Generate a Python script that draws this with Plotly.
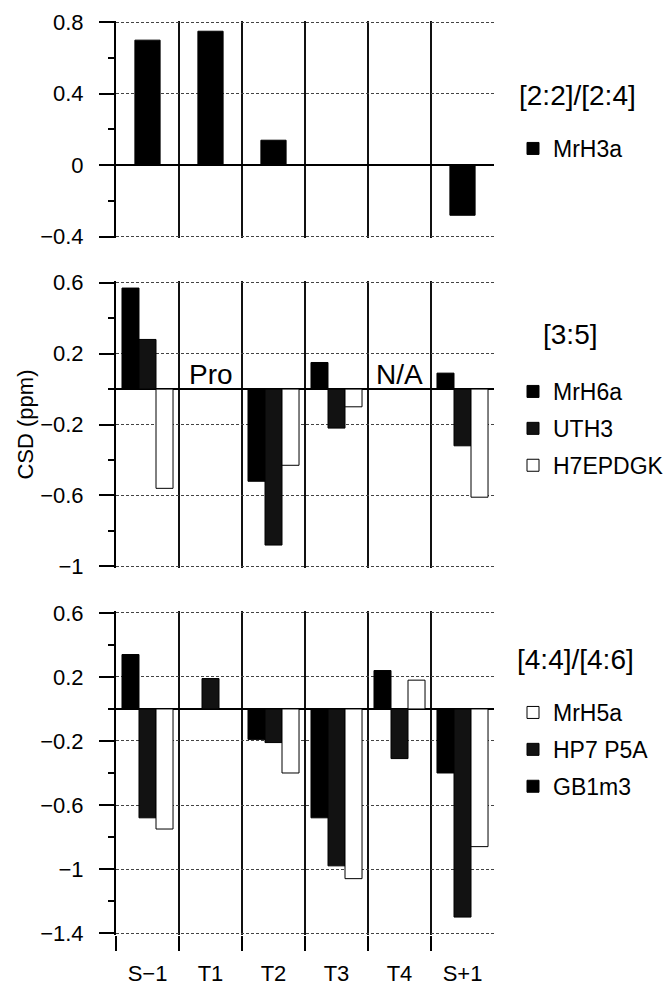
import plotly.graph_objects as go

# ---------------- data ----------------
categories = ["S\u22121", "T1", "T2", "T3", "T4", "S+1"]

# panel 1: [2:2]/[2:4]
mrh3a = [0.70, 0.75, 0.14, None, None, -0.28]

# panel 2: [3:5]
mrh6a = [0.57, None, -0.52, 0.15, None, 0.09]
uth3 = [0.28, None, -0.88, -0.22, None, -0.32]
h7epdgk = [-0.56, None, -0.43, -0.10, None, -0.61]

# panel 3: [4:4]/[4:6]
gb1m3 = [0.34, None, -0.19, -0.68, 0.24, -0.40]
hp7p5a = [-0.68, 0.19, -0.21, -0.98, -0.31, -1.30]
mrh5a = [-0.75, None, -0.40, -1.06, 0.18, -0.86]

panel_labels = ["[2:2]/[2:4]", "[3:5]", "[4:4]/[4:6]"]
gap_labels = ["Pro", "N/A"]

# ---------------- figure ----------------
FONT = "Liberation Sans, Arial, Helvetica, sans-serif"
W, H = 671, 986
xpos = list(range(len(categories)))
boundaries = [i - 0.5 for i in xpos]

fig = go.Figure()


def bar(name, vals, color, xa, ya, legend, rank, width=None, offset=None):
    fig.add_trace(go.Bar(
        x=xpos, y=vals, name=name,
        marker=dict(color=color, line=dict(color="black", width=1)),
        xaxis=xa, yaxis=ya, legend=legend, legendgroup=name, legendrank=rank,
        width=width, offset=offset, hoverinfo="skip",
    ))


bar("MrH3a", mrh3a, "#000000", "x", "y", "legend", 1, width=0.4, offset=-0.2)

bar("MrH6a", mrh6a, "#000000", "x2", "y2", "legend2", 1)
bar("UTH3", uth3, "#121212", "x2", "y2", "legend2", 2)
bar("H7EPDGK", h7epdgk, "#ffffff", "x2", "y2", "legend2", 3)

bar("GB1m3", gb1m3, "#000000", "x3", "y3", "legend3", 3)
bar("HP7 P5A", hp7p5a, "#121212", "x3", "y3", "legend3", 2)
bar("MrH5a", mrh5a, "#ffffff", "x3", "y3", "legend3", 1)


def xax(anchor, labels):
    d = dict(
        domain=[0, 1], anchor=anchor, range=[-0.5, 5.5], automargin=False,
        tickmode="array", tickvals=xpos, ticktext=categories,
        showticklabels=labels, ticks="", showgrid=False, zeroline=False,
        showline=False,
        tickfont=dict(size=22, family=FONT, color="black"),
        minor=dict(tickvals=boundaries, showgrid=True, gridcolor="#111111",
                   gridwidth=1.5,
                   ticks="outside" if labels else "", ticklen=15,
                   tickwidth=1.5, tickcolor="black"),
    )
    if labels:
        d["ticklabelstandoff"] = 23
    return d


def yax(anchor, domain, rng, tick0):
    pad = (rng[1] - rng[0]) * 0.006
    return dict(
        domain=domain, anchor=anchor, range=[rng[0] - pad, rng[1] + pad],
        automargin=False,
        tickmode="linear", tick0=tick0, dtick=0.4,
        ticks="outside", ticklen=15, tickwidth=1.5, tickcolor="black",
        showline=True, linecolor="black", linewidth=2,
        showgrid=True, gridcolor="#444444", griddash="3px,2px", gridwidth=1,
        zeroline=True, zerolinecolor="black", zerolinewidth=2,
        tickfont=dict(size=22, family=FONT, color="black"),
        ticklabelstandoff=11,
        minor=dict(tick0=0, dtick=0.2, ticks="outside", ticklen=6,
                   tickwidth=1.5, tickcolor="black", showgrid=False),
    )


leg_common = dict(
    xref="container", yref="container", xanchor="left", yanchor="top",
    font=dict(size=23, family=FONT, color="black"),
    bgcolor="rgba(0,0,0,0)", borderwidth=0, tracegroupgap=4,
    traceorder="grouped", itemclick=False, itemdoubleclick=False,
)

fig.update_layout(
    width=W, height=H,
    margin=dict(l=116, r=177, t=21, b=51),
    paper_bgcolor="white", plot_bgcolor="white",
    font=dict(family=FONT, color="black"),
    barmode="group", bargap=0.19, bargroupgap=0,
    xaxis=xax("y", False),
    xaxis2=xax("y2", False),
    xaxis3=xax("y3", True),
    yaxis=yax("x", [0.7626, 1.0], [-0.4, 0.8], 0),
    yaxis2=yax("x2", [0.4015, 0.7155], [-1.0, 0.6], 0.2),
    yaxis3=yax("x3", [0.0, 0.3545], [-1.4, 0.6], 0.2),
    legend=dict(leg_common, x=513 / W, y=1 - 127 / H),
    legend2=dict(leg_common, x=513 / W, y=1 - 370 / H),
    legend3=dict(leg_common, x=513 / W, y=1 - 691 / H),
    showlegend=True,
)

fig.update_layout(yaxis2_title=dict(text="CSD (ppm)", standoff=0,
                                    font=dict(size=22, family=FONT, color="black")))

# panel labels
for txt, xp, yp in zip(panel_labels, [1.061, 1.124, 1.0556], [0.919, 0.6565, 0.3009]):
    fig.add_annotation(text=txt, xref="paper", yref="paper", x=xp, y=yp,
                       xanchor="left", yanchor="middle", showarrow=False,
                       font=dict(size=28, family=FONT, color="black"))

# gap labels inside middle panel
for txt, idx in zip(gap_labels, [1, 4]):
    fig.add_annotation(text=txt, xref="x2", yref="y2", x=xpos[idx], y=0,
                       xanchor="center", yanchor="bottom", yshift=-3,
                       showarrow=False,
                       font=dict(size=28, family=FONT, color="black"))

fig.write_html("out.html")
